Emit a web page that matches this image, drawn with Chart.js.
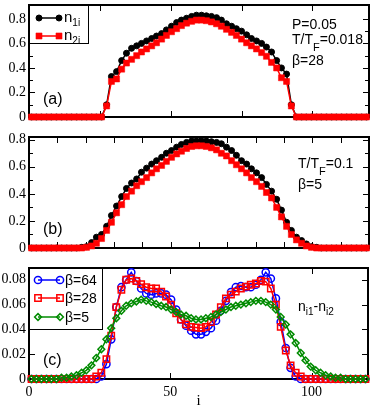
<!DOCTYPE html>
<html><head><meta charset="utf-8">
<script src="https://cdn.jsdelivr.net/npm/chart.js@4.4.1/dist/chart.umd.min.js"></script>
<style>
html,body{margin:0;padding:0;background:#fff;width:374px;height:410px;overflow:hidden}
canvas{position:absolute;left:0}
</style></head><body>
<canvas id="ca" width="374" height="125" style="top:0px"></canvas>
<canvas id="cb" width="374" height="125" style="top:130px"></canvas>
<canvas id="cc" width="374" height="155" style="top:255px"></canvas>
<script>
// ---- data ----
const sites = [0.9, 2.6, 4.4, 6.2, 7.9, 9.7, 11.5, 13.3, 15.0, 16.8,
  18.6, 20.3, 22.1, 23.8, 25.6, 27.4, 29.1, 30.9, 32.7, 34.4,
  36.2, 38.0, 39.7, 41.5, 43.3, 45.0, 46.8, 48.5, 50.3, 52.1,
  53.8, 55.6, 57.4, 59.1, 60.9, 62.6, 64.4, 66.2, 67.9, 69.7,
  71.5, 73.2, 75.0, 76.8, 78.5, 80.3, 82.1, 83.8, 85.6, 87.4,
  89.1, 90.9, 92.6, 94.4, 96.2, 97.9, 99.7, 101.5, 103.2, 105.0,
  106.8, 108.5, 110.3, 112.1, 113.8, 115.6, 117.4, 119.1];

// panel (a)
const n1a = [0,0,0,0,0,0,0,0,0,0,0,0,0,0,0,
  0.10,0.33,0.37,0.46,0.52,0.56,0.58,0.60,0.62,0.64,0.66,0.68,0.71,0.74,0.77,0.79,0.805,0.82,0.83,
  0.83,0.825,0.82,0.81,0.79,0.76,0.74,0.72,0.70,0.67,0.64,0.62,0.60,0.57,0.53,0.46,0.40,0.35,0.10,
  0,0,0,0,0,0,0,0,0,0,0,0,0,0,0];
const n2a = [0,0,0,0,0,0,0,0,0,0,0,0,0,0,0,
  0.09,0.29,0.31,0.39,0.44,0.47,0.50,0.53,0.555,0.58,0.605,0.635,0.665,0.695,0.72,0.745,0.765,0.78,0.79,
  0.79,0.785,0.775,0.76,0.74,0.715,0.69,0.665,0.635,0.605,0.58,0.555,0.525,0.495,0.445,0.40,0.32,0.29,0.09,
  0,0,0,0,0,0,0,0,0,0,0,0,0,0,0];
// panel (b)
const n1b = [0,0,0,0,0,0,0,0,0,0,
  0.005,0.01,0.04,0.08,0.10,0.16,0.24,0.31,0.38,0.44,0.48,0.51,0.56,0.59,0.62,0.645,0.67,0.70,0.72,0.745,0.765,0.78,0.79,0.79,
  0.79,0.79,0.785,0.78,0.77,0.745,0.72,0.685,0.645,0.62,0.585,0.555,0.52,0.47,0.42,0.36,0.28,0.19,0.13,0.08,0.055,0.03,0.01,0.005,
  0,0,0,0,0,0,0,0,0,0];
const n2b = [0,0,0,0,0,0,0,0,0,0,0,
  0.005,0.015,0.035,0.07,0.13,0.19,0.26,0.32,0.38,0.42,0.46,0.49,0.52,0.555,0.585,0.61,0.64,0.67,0.695,0.715,0.735,0.75,0.755,
  0.755,0.75,0.74,0.725,0.70,0.68,0.645,0.615,0.585,0.555,0.52,0.49,0.455,0.41,0.37,0.30,0.23,0.16,0.10,0.06,0.035,0.015,0.005,
  0,0,0,0,0,0,0,0,0,0,0];
// panel (c): n_i1 - n_i2
const diffBeta64 = [0,0,0,0,0,0,0,0,0,0,0,0,0,0,
  0.002,0.012,0.032,0.058,0.074,0.080,0.086,0.079,0.073,0.069,0.068,0.069,0.069,0.068,0.064,0.056,0.048,0.043,0.039,0.036,
  0.036,0.038,0.041,0.047,0.055,0.063,0.070,0.074,0.075,0.074,0.074,0.076,0.080,0.086,0.081,0.065,0.046,0.025,0.009,0.002,
  0,0,0,0,0,0,0,0,0,0,0,0,0,0];
const diffBeta28 = [0,0,0,0,0,0,0,0,0,0,0,0,0,
  0.002,0.005,0.016,0.035,0.058,0.072,0.080,0.081,0.079,0.0765,0.074,0.073,0.073,0.0705,0.0665,0.060,0.053,0.048,0.044,0.042,0.0415,
  0.041,0.042,0.046,0.052,0.058,0.065,0.068,0.0705,0.073,0.0745,0.076,0.077,0.079,0.0785,0.073,0.060,0.042,0.023,0.011,0.005,0.002,
  0,0,0,0,0,0,0,0,0,0,0,0,0];
const diffBeta5 = [0,0,0,0,0,0,
  0.001,0.001,0.002,0.003,0.005,0.007,0.011,0.017,0.024,0.032,0.041,0.049,0.055,0.059,0.061,0.0625,0.064,0.063,0.062,0.0605,0.059,0.058,0.056,0.054,0.052,0.051,0.049,0.048,
  0.048,0.049,0.050,0.052,0.054,0.056,0.058,0.059,0.060,0.061,0.062,0.063,0.063,0.062,0.060,0.056,0.050,0.044,0.036,0.029,0.021,0.015,0.010,0.007,0.005,0.003,0.002,0.001,0.001,
  0,0,0,0,0];

// ticks and labels
const xTicksA = [0, 25, 50, 75, 100];
const xTicksB = [0, 10, 20, 30, 40, 50, 60, 70, 80, 90, 100, 110];
const xTicksC = [0, 50, 100];
const xLabelsC = ['0', '50', '100'];
const yTicksAB = [0, 0.2, 0.4, 0.6, 0.8];
const yLabelsAB = ['0', '0.2', '0.4', '0.6', '0.8'];
const yMinorAB = [0.1, 0.3, 0.5, 0.7];
const yTicksC = [0, 0.02, 0.04, 0.06, 0.08];
const yLabelsC = ['0', '0.02', '0.04', '0.06', '0.08'];
const betaNames = ['\u03b2=64', '\u03b2=28', '\u03b2=5'];

// ---- drawing helpers ----
const SANS = '"Liberation Sans", Arial, sans-serif';
const SERIF = '"Liberation Serif", "Times New Roman", serif';
const GREEN = 'rgb(0,139,0)';

function pts(vals) { return vals.map((v, i) => ({x: sites[i], y: v})); }

function drawMarker(ctx, style, r, x, y, fill, stroke, bw) {
  ctx.beginPath();
  if (style === 'circle') ctx.arc(x, y, r, 0, Math.PI * 2);
  else if (style === 'rect') { const s = Math.SQRT1_2 * r; ctx.rect(x - s, y - s, 2 * s, 2 * s); }
  else { ctx.moveTo(x - r, y); ctx.lineTo(x, y - r); ctx.lineTo(x + r, y); ctx.lineTo(x, y + r); ctx.closePath(); }
  ctx.fillStyle = fill; ctx.fill();
  if (bw > 0) { ctx.lineWidth = bw; ctx.strokeStyle = stroke; ctx.stroke(); }
}

function drawRich(ctx, x, y, parts) {
  let cx = x;
  parts.forEach(p => {
    ctx.font = (p.size || 14) + 'px ' + SANS;
    ctx.fillStyle = '#000';
    ctx.textBaseline = 'alphabetic';
    ctx.textAlign = 'left';
    ctx.fillText(p.t, cx, y + (p.dy || 0));
    cx += ctx.measureText(p.t).width;
  });
}

const panelPlugin = {
  id: 'panel',
  beforeDatasetsDraw(chart) {
    const {ctx, chartArea: a, scales: {x, y}} = chart;
    const p = chart.options.plugins.panel;
    ctx.save();
    ctx.strokeStyle = '#000';
    ctx.lineWidth = 1;
    ctx.beginPath();
    const yt = (v, len) => {
      const py = Math.round(y.getPixelForValue(v)) + 0.5;
      ctx.moveTo(a.left, py); ctx.lineTo(a.left + len, py);
      ctx.moveTo(a.right, py); ctx.lineTo(a.right - len, py);
    };
    y.ticks.forEach(t => yt(t.value, 6));
    (p.yMinor || []).forEach(v => yt(v, 4));
    x.ticks.forEach(t => {
      const px = Math.round(x.getPixelForValue(t.value)) + 0.5;
      ctx.moveTo(px, a.bottom); ctx.lineTo(px, a.bottom - 6);
      ctx.moveTo(px, a.top); ctx.lineTo(px, a.top + 6);
    });
    ctx.stroke();
    ctx.lineWidth = 2;
    ctx.strokeRect(a.left, a.top, a.right - a.left, a.bottom - a.top);
    ctx.restore();
  },
  afterDatasetsDraw(chart) {
    const {ctx, chartArea: a} = chart;
    const p = chart.options.plugins.panel;
    ctx.save();
    if (p.legend) {
      const L = p.legend;
      ctx.fillStyle = '#fff';
      ctx.fillRect(a.left, a.top, L.w, L.h);
      ctx.lineWidth = 1;
      ctx.strokeStyle = '#000';
      ctx.strokeRect(a.left + 0.5, a.top + 0.5, L.w, L.h);
      L.entries.forEach(e => {
        const ds = chart.data.datasets[e.ds];
        const yy = a.top + e.y;
        const x1 = a.left + L.x1, x2 = a.left + L.x2;
        ctx.beginPath();
        ctx.strokeStyle = ds.borderColor; ctx.lineWidth = ds.borderWidth;
        ctx.moveTo(x1, yy); ctx.lineTo(x2, yy); ctx.stroke();
        [x1, x2].forEach(xx => drawMarker(ctx, ds.pointStyle, ds.pointRadius, xx, yy,
          ds.pointBackgroundColor, ds.pointBorderColor, ds.pointBorderWidth));
        drawRich(ctx, a.left + L.tx, yy + e.tdy, e.text);
      });
    }
    (p.texts || []).forEach(t => drawRich(ctx, t.x, t.y, t.parts));
    ctx.restore();
  }
};

function makeChart(id, c) {
  return new Chart(document.getElementById(id), {
    type: 'line',
    data: {datasets: c.datasets},
    options: {
      responsive: false, animation: false, devicePixelRatio: 1, events: [],
      layout: {padding: {top: c.padTop, right: 4, left: 0, bottom: 0}},
      plugins: {legend: {display: false}, tooltip: {enabled: false}, panel: c.panel},
      scales: {
        x: {
          type: 'linear', min: 0, max: 120,
          afterBuildTicks: s => { s.ticks = c.xTicks.map(v => ({value: v})); },
          afterFit: s => { s.height = c.xHeight; s.paddingLeft = 0; s.paddingRight = 0; },
          grid: {display: false, drawTicks: false}, border: {display: false},
          ticks: {display: !!c.xLabels, padding: 5, color: '#000', maxRotation: 0, autoSkip: false,
            font: {family: SERIF, size: 14},
            callback: (v, i) => c.xLabels ? c.xLabels[i] : ''},
          title: c.xTitle ? {display: true, text: c.xTitle, color: '#000', padding: {top: 0, bottom: 0},
            font: {family: SERIF, size: 15}} : {display: false}
        },
        y: {
          type: 'linear', min: 0, max: c.yMax,
          afterBuildTicks: s => { s.ticks = c.yTicks.map(v => ({value: v})); },
          afterFit: s => { s.width = 29; s.paddingTop = 0; s.paddingBottom = 0; },
          grid: {display: false, drawTicks: false}, border: {display: false},
          ticks: {padding: 3, color: '#000', autoSkip: false, font: {family: SERIF, size: 14},
            callback: (v, i) => c.yLabels[i]}
        }
      }
    },
    plugins: [panelPlugin]
  });
}

function ds(vals, color, style, r, fill, bw, order) {
  return {data: pts(vals), borderColor: color, borderWidth: 1.5, tension: 0, fill: false,
    pointStyle: style, pointRadius: r, pointBackgroundColor: fill, pointBorderColor: color,
    pointBorderWidth: bw, order: order, clip: false};
}

const legendAB = {w: 59, h: 38, x1: 10, x2: 30, tx: 35, entries: [
  {ds: 0, y: 13, tdy: 4, text: [{t: 'n', size: 15}, {t: '1i', size: 10, dy: 4}]},
  {ds: 1, y: 31, tdy: 4, text: [{t: 'n', size: 15}, {t: '2i', size: 10, dy: 4}]}
]};

makeChart('ca', {
  padTop: 2, xHeight: 8, yMax: 0.913,
  xTicks: xTicksA, yTicks: yTicksAB, yLabels: yLabelsAB,
  datasets: [ds(n1a, '#000', 'circle', 3, '#000', 1, 1), ds(n2a, '#ff0000', 'rect', 4.3, '#ff0000', 0.5, 0)],
  panel: {yMinor: yMinorAB, legend: legendAB, texts: [
    {x: 292, y: 29, parts: [{t: 'P=0.05'}]},
    {x: 292, y: 44, parts: [{t: 'T/T'}, {t: 'F', size: 11, dy: 7}, {t: '=0.018'}]},
    {x: 292, y: 65, parts: [{t: '\u03b2=28'}]},
    {x: 43, y: 104, parts: [{t: '(a)', size: 16}]}
  ]}
});

makeChart('cb', {
  padTop: 7, xHeight: 7, yMax: 0.82,
  xTicks: xTicksB, yTicks: yTicksAB, yLabels: yLabelsAB,
  datasets: [ds(n1b, '#000', 'circle', 3, '#000', 1, 1), ds(n2b, '#ff0000', 'rect', 4.3, '#ff0000', 0.5, 0)],
  panel: {yMinor: yMinorAB, texts: [
    {x: 298, y: 38, parts: [{t: 'T/T'}, {t: 'F', size: 11, dy: 7}, {t: '=0.1'}]},
    {x: 298, y: 59, parts: [{t: '\u03b2=5'}]},
    {x: 43, y: 104, parts: [{t: '(b)', size: 16}]}
  ]}
});

makeChart('cc', {
  padTop: 13, xHeight: 31, yMax: 0.0895,
  xTicks: xTicksC, xLabels: xLabelsC, xTitle: 'i', yTicks: yTicksC, yLabels: yLabelsC,
  datasets: [
    ds(diffBeta64, '#0000ff', 'circle', 3.6, 'rgba(0,0,0,0)', 1.5, 2),
    ds(diffBeta28, '#ff0000', 'rect', 4.5, 'rgba(0,0,0,0)', 1.5, 1),
    ds(diffBeta5, GREEN, 'rectRot', 3.4, 'rgba(0,0,0,0)', 1.5, 0)
  ],
  panel: {legend: {w: 73, h: 61, x1: 9, x2: 31, tx: 36, entries: [
      {ds: 0, y: 12, tdy: 5, text: [{t: betaNames[0]}]},
      {ds: 1, y: 30, tdy: 5, text: [{t: betaNames[1]}]},
      {ds: 2, y: 49, tdy: 5, text: [{t: betaNames[2]}]}
    ]},
    texts: [
      {x: 298, y: 56, parts: [{t: 'n'}, {t: 'i1', size: 10, dy: 4}, {t: '-n'}, {t: 'i2', size: 10, dy: 4}]},
      {x: 43, y: 110, parts: [{t: '(c)', size: 16}]}
    ]}
});
</script>
</body></html>
